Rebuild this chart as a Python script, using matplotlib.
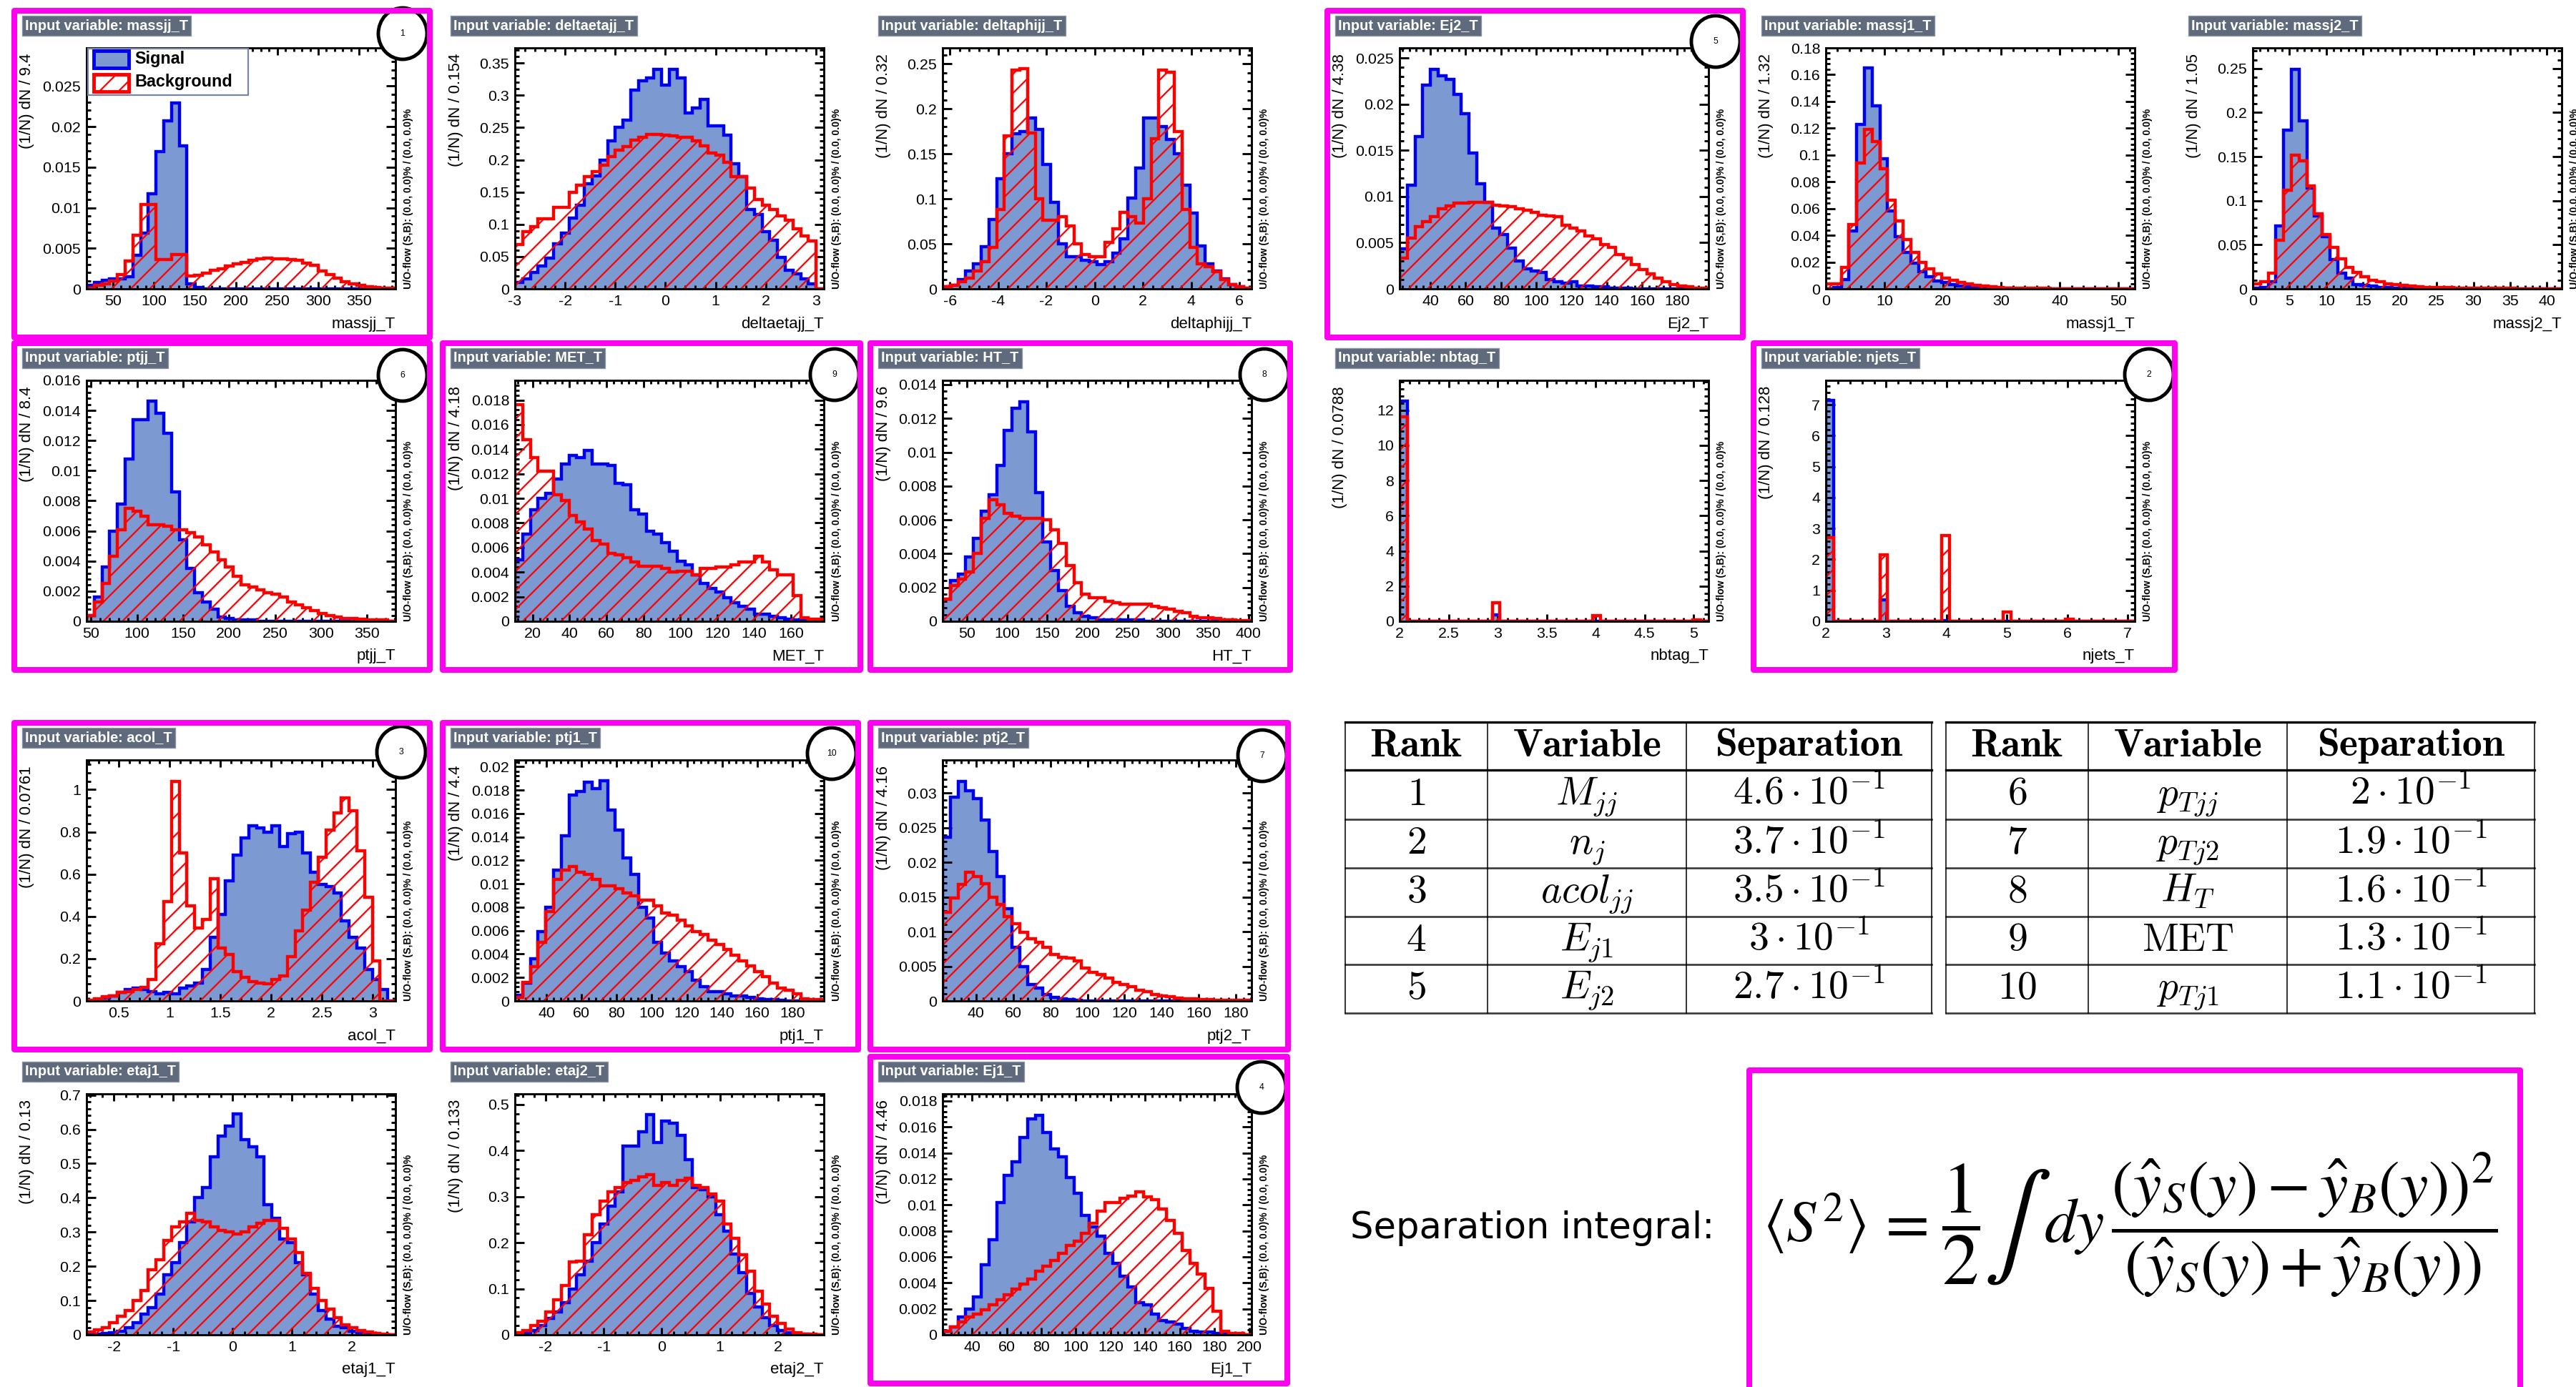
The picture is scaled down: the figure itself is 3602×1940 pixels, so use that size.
import numpy as np
import matplotlib
matplotlib.use("Agg")
import matplotlib.pyplot as plt
from matplotlib.patches import Rectangle, Ellipse
from matplotlib.lines import Line2D
from matplotlib.ticker import MultipleLocator, FormatStrFormatter

plt.rcParams['font.family'] = ['Liberation Sans', 'DejaVu Sans']
plt.rcParams['hatch.linewidth'] = 1.0
plt.rcParams['hatch.color'] = 'red'

# ---------------------------------------------------------------- data
MASSJJ_SIG = [0.0004, 0.0008, 0.0011, 0.0012, 0.0012, 0.0015, 0.0041, 0.0069, 0.0117, 0.0169,
              0.0207, 0.0229, 0.0176, 0.0006, 0.0002, 0, 0, 0, 0, 0,
              0, 0, 0, 0, 0, 0, 0, 0, 0, 0, 0, 0, 0, 0, 0, 0, 0, 0, 0, 0]
MASSJJ_BKG = [0.0001, 0.0004, 0.0006, 0.0010, 0.0018, 0.0034, 0.0066, 0.0104, 0.0104, 0.0036,
              0.0036, 0.0042, 0.0042, 0.0016, 0.0017, 0.0019, 0.0023, 0.0025, 0.0028, 0.0031,
              0.0033, 0.0035, 0.0037, 0.0038, 0.0037, 0.0037, 0.0036, 0.0035, 0.0032, 0.0029,
              0.0022, 0.0018, 0.0013, 0.0009, 0.0006, 0.0004, 0.0003, 0.0002, 0.0001, 0.0001]

DETAJJ_SIG = [0.010, 0.015, 0.025, 0.035, 0.048, 0.070, 0.086, 0.110, 0.130, 0.163,
              0.175, 0.200, 0.230, 0.250, 0.262, 0.308, 0.323, 0.327, 0.340, 0.316,
              0.340, 0.327, 0.273, 0.281, 0.294, 0.253, 0.253, 0.238, 0.194, 0.174,
              0.123, 0.115, 0.089, 0.075, 0.049, 0.029, 0.023, 0.016, 0.008, 0.0]
DETAJJ_BKG = [0.069, 0.089, 0.097, 0.109, 0.109, 0.126, 0.126, 0.150, 0.161, 0.174,
              0.182, 0.192, 0.205, 0.215, 0.221, 0.231, 0.235, 0.240, 0.239, 0.238,
              0.237, 0.235, 0.235, 0.229, 0.222, 0.211, 0.207, 0.196, 0.174, 0.174,
              0.156, 0.139, 0.130, 0.123, 0.113, 0.106, 0.093, 0.082, 0.074, 0.0]

DPHIJJ_SIG = [0.002, 0.004, 0.010, 0.020, 0.028, 0.047, 0.077, 0.122, 0.150, 0.172,
              0.175, 0.190, 0.177, 0.138, 0.096, 0.050, 0.036, 0.036, 0.032, 0.030,
              0.027, 0.030, 0.040, 0.056, 0.101, 0.134, 0.190, 0.190, 0.180, 0.166,
              0.150, 0.115, 0.084, 0.048, 0.028, 0.020, 0.011, 0.005, 0.002, 0.0]
DPHIJJ_BKG = [0.002, 0.004, 0.008, 0.012, 0.020, 0.030, 0.046, 0.088, 0.170, 0.243,
              0.245, 0.173, 0.100, 0.076, 0.076, 0.080, 0.070, 0.050, 0.038, 0.036,
              0.036, 0.052, 0.067, 0.085, 0.080, 0.073, 0.100, 0.167, 0.243, 0.241,
              0.175, 0.088, 0.046, 0.028, 0.025, 0.019, 0.010, 0.005, 0.002, 0.001]

EJ2_SIG = [0.0043, 0.0112, 0.0165, 0.0221, 0.0238, 0.0231, 0.0227, 0.0211, 0.0190, 0.0147,
           0.0114, 0.0094, 0.0066, 0.0059, 0.0044, 0.0030, 0.0022, 0.0019, 0.0018, 0.0010,
           0.0008, 0.0006, 0.0008, 0.0003, 0.0003, 0.0002, 0.0002, 0.0001, 0.0001, 0.0001,
           0, 0, 0, 0, 0, 0, 0, 0, 0, 0]
EJ2_BKG = [0.0033, 0.0055, 0.0067, 0.0073, 0.0078, 0.0087, 0.0090, 0.0093, 0.0093, 0.0094,
           0.0094, 0.0094, 0.0091, 0.0090, 0.0089, 0.0087, 0.0085, 0.0083, 0.0080, 0.0079,
           0.0078, 0.0069, 0.0066, 0.0063, 0.0057, 0.0054, 0.0048, 0.0045, 0.0037, 0.0033,
           0.0026, 0.0021, 0.0016, 0.0012, 0.0008, 0.0005, 0.0003, 0.0002, 0.0001, 0.0001]

MASSJ1_SIG = [0.0, 0.001, 0.007, 0.043, 0.123, 0.165, 0.137, 0.097, 0.058, 0.039,
              0.027, 0.019, 0.013, 0.009, 0.006, 0.005, 0.003, 0.002, 0.0015, 0.001,
              0.0008, 0.0005, 0.0004, 0.0003, 0.0002, 0.0002, 0.0001, 0.0001, 0.0001, 0,
              0, 0, 0, 0, 0, 0, 0, 0, 0, 0]
MASSJ1_BKG = [0.004, 0.004, 0.016, 0.048, 0.094, 0.119, 0.110, 0.090, 0.066, 0.051,
              0.037, 0.027, 0.020, 0.015, 0.011, 0.008, 0.0065, 0.005, 0.0035, 0.0025,
              0.002, 0.0015, 0.001, 0.0008, 0.0006, 0.0005, 0.0004, 0.0003, 0.0003, 0.0002,
              0.0002, 0.0002, 0.0001, 0.0001, 0.0001, 0.0001, 0.0001, 0.0001, 0.0001, 0.0001]

MASSJ2_SIG = [0.001, 0.002, 0.008, 0.071, 0.180, 0.249, 0.191, 0.114, 0.083, 0.059,
              0.033, 0.018, 0.012, 0.005, 0.004, 0.003, 0.002, 0.0015, 0.001, 0.001,
              0.0005, 0.0005, 0.0003, 0.0003, 0.0002, 0.0002, 0.0001, 0.0001, 0, 0,
              0, 0, 0, 0, 0, 0, 0, 0, 0, 0]
MASSJ2_BKG = [0.006, 0.008, 0.0175, 0.055, 0.112, 0.152, 0.145, 0.117, 0.085, 0.062,
              0.047, 0.034, 0.024, 0.019, 0.014, 0.010, 0.008, 0.006, 0.005, 0.004,
              0.003, 0.0025, 0.002, 0.0018, 0.0015, 0.0013, 0.0011, 0.001, 0.0009, 0.0008,
              0.0007, 0.0006, 0.0005, 0.0005, 0.0004, 0.0004, 0.0003, 0.0003, 0.0003, 0.0002]

PTJJ_SIG = [0.0004, 0.0016, 0.0036, 0.0060, 0.0078, 0.0108, 0.0134, 0.0134, 0.0146, 0.0138,
            0.0125, 0.0086, 0.0054, 0.0035, 0.0019, 0.0013, 0.0008, 0.0003, 0.0002, 0.0001,
            0.0001, 0.0001, 0, 0, 0, 0, 0, 0, 0, 0, 0, 0, 0, 0, 0, 0, 0, 0, 0, 0]
PTJJ_BKG = [0.0004, 0.0013, 0.0025, 0.0043, 0.0061, 0.0075, 0.0073, 0.0070, 0.0064, 0.0064,
            0.0063, 0.0061, 0.0061, 0.0059, 0.0056, 0.0051, 0.0046, 0.0041, 0.0036, 0.0030,
            0.0024, 0.0023, 0.0021, 0.0019, 0.0018, 0.0016, 0.0013, 0.0011, 0.0009, 0.0007,
            0.0005, 0.0004, 0.0003, 0.0002, 0.0002, 0.00015, 0.0001, 0.0001, 0.0001, 0.0]

MET_SIG = [0.0050, 0.0071, 0.0091, 0.0100, 0.0104, 0.0116, 0.0128, 0.0135, 0.0133, 0.0139,
           0.0128, 0.0128, 0.0127, 0.0112, 0.0111, 0.0091, 0.0087, 0.0073, 0.0071, 0.0064,
           0.0057, 0.0049, 0.0046, 0.0038, 0.0031, 0.0027, 0.0024, 0.0019, 0.0015, 0.0012,
           0.0010, 0.0006, 0.0006, 0.0004, 0.0003, 0.0002, 0.0001, 0.0001, 0.00005, 0.00005]
MET_BKG = [0.0176, 0.0148, 0.0133, 0.0122, 0.0122, 0.0103, 0.0098, 0.0086, 0.0081, 0.0075,
           0.0066, 0.0063, 0.0055, 0.0054, 0.0052, 0.0048, 0.0045, 0.0045, 0.0045, 0.0043,
           0.0040, 0.0041, 0.0041, 0.0038, 0.0043, 0.0043, 0.0044, 0.0044, 0.0046, 0.0048,
           0.0048, 0.0053, 0.0048, 0.0042, 0.0038, 0.0038, 0.0021, 0.0003, 0.0002, 0.0002]

HT_SIG = [0.0013, 0.0024, 0.0028, 0.0038, 0.0049, 0.0065, 0.0075, 0.0092, 0.0113, 0.0126,
          0.0130, 0.0112, 0.0076, 0.0047, 0.0030, 0.0018, 0.0009, 0.0005, 0.0003, 0.0002,
          0.0001, 0.0001, 0.0001, 0.0001, 0.0001, 0.0001, 0, 0, 0, 0,
          0, 0, 0, 0, 0, 0, 0, 0, 0, 0]
HT_BKG = [0.0013, 0.0021, 0.0025, 0.0029, 0.0040, 0.0061, 0.0072, 0.0069, 0.0064, 0.0062,
          0.0061, 0.0061, 0.0061, 0.0060, 0.0054, 0.0046, 0.0033, 0.0023, 0.0016, 0.0014,
          0.0014, 0.0012, 0.0011, 0.0010, 0.0010, 0.0010, 0.0010, 0.0009, 0.0008, 0.0007,
          0.0006, 0.0005, 0.0003, 0.0002, 0.0002, 0.00015, 0.0001, 0.0001, 0.00005, 0.00005]

NBTAG_SIG = [12.5, 0, 0, 0, 0, 0, 0, 0, 0, 0, 0, 0, 0.35, 0, 0, 0, 0, 0, 0, 0,
             0, 0, 0, 0, 0, 0.02, 0, 0, 0, 0, 0, 0, 0, 0, 0, 0, 0, 0, 0, 0]
NBTAG_BKG = [11.6, 0, 0, 0, 0, 0, 0, 0, 0, 0, 0, 0, 1.05, 0, 0, 0, 0, 0, 0, 0,
             0, 0, 0, 0, 0, 0.31, 0, 0, 0, 0, 0, 0, 0, 0, 0, 0, 0, 0, 0.10, 0]

NJETS_SIG = [7.15, 0, 0, 0, 0, 0, 0, 0.70, 0, 0, 0, 0, 0, 0, 0, 0.02, 0, 0, 0, 0,
             0, 0, 0, 0, 0, 0, 0, 0, 0, 0, 0, 0, 0, 0, 0, 0, 0, 0, 0, 0]
NJETS_BKG = [2.71, 0, 0, 0, 0, 0, 0, 2.15, 0, 0, 0, 0, 0, 0, 0, 2.78, 0, 0, 0, 0,
             0, 0, 0, 0.29, 0, 0, 0, 0, 0, 0, 0, 0.06, 0, 0, 0, 0, 0, 0, 0, 0]

ACOL_SIG = [0.0, 0.005, 0.015, 0.025, 0.040, 0.055, 0.060, 0.055, 0.045, 0.035,
            0.040, 0.035, 0.060, 0.070, 0.085, 0.150, 0.300, 0.410, 0.570, 0.690,
            0.770, 0.830, 0.820, 0.800, 0.830, 0.730, 0.790, 0.800, 0.700, 0.610,
            0.550, 0.540, 0.510, 0.380, 0.300, 0.250, 0.150, 0.100, 0.055, 0.0]
ACOL_BKG = [0.005, 0.010, 0.020, 0.025, 0.040, 0.045, 0.055, 0.065, 0.100, 0.270,
            0.470, 1.040, 0.700, 0.450, 0.345, 0.385, 0.580, 0.250, 0.220, 0.140,
            0.110, 0.090, 0.085, 0.080, 0.100, 0.120, 0.210, 0.330, 0.430, 0.560,
            0.680, 0.810, 0.890, 0.960, 0.900, 0.710, 0.490, 0.190, 0.0, 0.0]

PTJ1_SIG = [0.0005, 0.0015, 0.0036, 0.0059, 0.0080, 0.0112, 0.0141, 0.0176, 0.0179, 0.0187,
            0.0181, 0.0188, 0.0163, 0.0146, 0.0122, 0.0108, 0.0080, 0.0071, 0.0050, 0.0041,
            0.0034, 0.0029, 0.0025, 0.0018, 0.0012, 0.0008, 0.0008, 0.0006, 0.0004, 0.0004,
            0.0003, 0.0002, 0.0001, 0.0001, 0.00005, 0, 0, 0, 0, 0]
PTJ1_BKG = [0.0003, 0.0016, 0.0029, 0.0050, 0.0076, 0.0104, 0.0112, 0.0115, 0.0110, 0.0108,
            0.0104, 0.0098, 0.0098, 0.0096, 0.0092, 0.0090, 0.0086, 0.0086, 0.0081, 0.0075,
            0.0073, 0.0069, 0.0064, 0.0059, 0.0057, 0.0052, 0.0048, 0.0044, 0.0039, 0.0034,
            0.0030, 0.0025, 0.0021, 0.0015, 0.0011, 0.0009, 0.0006, 0.0002, 0.0001, 0.0001]

PTJ2_SIG = [0.0236, 0.0294, 0.0317, 0.0304, 0.0292, 0.0261, 0.0216, 0.0180, 0.0133, 0.0077,
            0.0050, 0.0024, 0.0019, 0.0009, 0.0005, 0.0003, 0.0002, 0.0001, 0.00005, 0.00005,
            0, 0, 0, 0, 0, 0, 0, 0, 0, 0, 0, 0, 0, 0, 0, 0, 0, 0, 0, 0]
PTJ2_BKG = [0.0128, 0.0149, 0.0168, 0.0186, 0.0180, 0.0169, 0.0150, 0.0139, 0.0122, 0.0112,
            0.0099, 0.0090, 0.0085, 0.0077, 0.0067, 0.0063, 0.0062, 0.0058, 0.0048, 0.0041,
            0.0038, 0.0033, 0.0027, 0.0024, 0.0021, 0.0016, 0.0013, 0.0009, 0.0007, 0.0006,
            0.0004, 0.0003, 0.0003, 0.0002, 0.0002, 0.0001, 0.0001, 0.0001, 0.0001, 0.0001]

ETAJ1_SIG = [0.001, 0.002, 0.004, 0.006, 0.010, 0.020, 0.035, 0.060, 0.080, 0.120,
             0.175, 0.210, 0.270, 0.330, 0.400, 0.430, 0.520, 0.580, 0.610, 0.645,
             0.570, 0.550, 0.520, 0.380, 0.340, 0.280, 0.270, 0.210, 0.175, 0.120,
             0.070, 0.045, 0.025, 0.020, 0.010, 0.006, 0.003, 0.002, 0.001, 0.0]
ETAJ1_BKG = [0.008, 0.015, 0.020, 0.035, 0.055, 0.070, 0.100, 0.130, 0.190, 0.220,
             0.275, 0.315, 0.330, 0.355, 0.335, 0.330, 0.315, 0.305, 0.300, 0.295,
             0.300, 0.315, 0.325, 0.335, 0.335, 0.310, 0.280, 0.240, 0.180, 0.135,
             0.100, 0.075, 0.050, 0.030, 0.020, 0.012, 0.008, 0.005, 0.002, 0.001]

ETAJ2_SIG = [0.002, 0.005, 0.010, 0.020, 0.035, 0.050, 0.070, 0.100, 0.130, 0.160,
             0.200, 0.240, 0.280, 0.310, 0.410, 0.410, 0.440, 0.478, 0.418, 0.464,
             0.460, 0.433, 0.380, 0.320, 0.315, 0.300, 0.260, 0.225, 0.175, 0.135,
             0.090, 0.060, 0.037, 0.020, 0.009, 0.004, 0.002, 0.001, 0.0, 0.0]
ETAJ2_BKG = [0.004, 0.009, 0.020, 0.030, 0.050, 0.076, 0.107, 0.158, 0.160, 0.217,
             0.260, 0.290, 0.310, 0.320, 0.330, 0.335, 0.343, 0.348, 0.325, 0.330,
             0.325, 0.335, 0.340, 0.325, 0.320, 0.305, 0.290, 0.240, 0.210, 0.174,
             0.138, 0.094, 0.066, 0.040, 0.025, 0.012, 0.005, 0.002, 0.001, 0.0]

EJ1_SIG = [0.0003, 0.0006, 0.0014, 0.0020, 0.0029, 0.0054, 0.0073, 0.0102, 0.0123, 0.0133,
           0.0152, 0.0166, 0.0169, 0.0156, 0.0143, 0.0137, 0.0121, 0.0109, 0.0092, 0.0083,
           0.0076, 0.0063, 0.0055, 0.0045, 0.0037, 0.0025, 0.0023, 0.0016, 0.0011, 0.0010,
           0.0008, 0.0005, 0.0003, 0.0002, 0.0002, 0.0001, 0.0001, 0, 0, 0]
EJ1_BKG = [0.0003, 0.0006, 0.0010, 0.0014, 0.0016, 0.0019, 0.0023, 0.0027, 0.0031, 0.0035,
           0.0039, 0.0043, 0.0049, 0.0053, 0.0057, 0.0063, 0.0069, 0.0072, 0.0078, 0.0086,
           0.0095, 0.0102, 0.0102, 0.0105, 0.0107, 0.0110, 0.0106, 0.0104, 0.0097, 0.0088,
           0.0078, 0.0065, 0.0055, 0.0047, 0.0036, 0.0018, 0.0003, 0.0001, 0.0001, 0.0]

# variable name, signal, background, first bin edge, bin width
HISTS = [
    ("massjj_T", MASSJJ_SIG, MASSJJ_BKG, 18.0, 9.4),
    ("deltaetajj_T", DETAJJ_SIG, DETAJJ_BKG, -3.0, 0.154),
    ("deltaphijj_T", DPHIJJ_SIG, DPHIJJ_BKG, -6.3, 0.32),
    ("Ej2_T", EJ2_SIG, EJ2_BKG, 22.5, 4.38),
    ("massj1_T", MASSJ1_SIG, MASSJ1_BKG, 0.0, 1.32),
    ("massj2_T", MASSJ2_SIG, MASSJ2_BKG, 0.0, 1.05),
    ("ptjj_T", PTJJ_SIG, PTJJ_BKG, 45.0, 8.4),
    ("MET_T", MET_SIG, MET_BKG, 10.5, 4.18),
    ("HT_T", HT_SIG, HT_BKG, 20.0, 9.6),
    ("nbtag_T", NBTAG_SIG, NBTAG_BKG, 2.0, 0.0788),
    ("njets_T", NJETS_SIG, NJETS_BKG, 2.0, 0.128),
    ("acol_T", ACOL_SIG, ACOL_BKG, 0.18, 0.0761),
    ("ptj1_T", PTJ1_SIG, PTJ1_BKG, 22.0, 4.4),
    ("ptj2_T", PTJ2_SIG, PTJ2_BKG, 22.0, 4.16),
    ("etaj1_T", ETAJ1_SIG, ETAJ1_BKG, -2.46, 0.13),
    ("etaj2_T", ETAJ2_SIG, ETAJ2_BKG, -2.53, 0.133),
    ("Ej1_T", EJ1_SIG, EJ1_BKG, 23.0, 4.46),
]
BIN_LABELS = {"massjj_T": "9.4", "deltaetajj_T": "0.154", "deltaphijj_T": "0.32",
              "Ej2_T": "4.38", "massj1_T": "1.32", "massj2_T": "1.05", "ptjj_T": "8.4",
              "MET_T": "4.18", "HT_T": "9.6", "nbtag_T": "0.0788", "njets_T": "0.128",
              "acol_T": "0.0761", "ptj1_T": "4.4", "ptj2_T": "4.16", "etaj1_T": "0.13",
              "etaj2_T": "0.133", "Ej1_T": "4.46"}

# separation ranking
RANK_VARS = ["massjj_T", "njets_T", "acol_T", "Ej1_T", "Ej2_T",
             "ptjj_T", "ptj2_T", "HT_T", "MET_T", "ptj1_T"]
TABLE_RANK = [1, 2, 3, 4, 5, 6, 7, 8, 9, 10]
TABLE_VAR = [r"M_{jj}", r"n_j", r"acol_{jj}", r"E_{j1}", r"E_{j2}",
             r"p_{Tjj}", r"p_{Tj2}", r"H_T", r"\mathrm{MET}", r"p_{Tj1}"]
TABLE_SEP = [0.46, 0.37, 0.35, 0.30, 0.27, 0.20, 0.19, 0.16, 0.13, 0.11]

# ---------------------------------------------------------------- layout / style
W, H, DPI = 3602, 1940, 160
SIG_FILL = "#7d99d1"
SIG_LINE = "#0000f0"
BKG_LINE = "#ff0000"
TITLE_BG = "#5f6a7d"
MAGENTA = "#ff00f0"

AXW, AXH = 432, 337
COL_X = [121, 720, 1318, 1957, 2553, 3150]
ROW_Y = [67, 532, 1063, 1530]
GRID = {"massjj_T": (0, 0), "deltaetajj_T": (1, 0), "deltaphijj_T": (2, 0), "Ej2_T": (3, 0),
        "massj1_T": (4, 0), "massj2_T": (5, 0),
        "ptjj_T": (0, 1), "MET_T": (1, 1), "HT_T": (2, 1), "nbtag_T": (3, 1), "njets_T": (4, 1),
        "acol_T": (0, 2), "ptj1_T": (1, 2), "ptj2_T": (2, 2),
        "etaj1_T": (0, 3), "etaj2_T": (1, 3), "Ej1_T": (2, 3)}
# y max, x major step, y major step
AXIS = {"massjj_T": (0.0297, 50, 0.005), "deltaetajj_T": (0.3736, 1, 0.05),
        "deltaphijj_T": (0.2677, 2, 0.05), "Ej2_T": (0.0261, 20, 0.005),
        "massj1_T": (0.180, 10, 0.02), "massj2_T": (0.2734, 5, 0.05),
        "ptjj_T": (0.0160, 50, 0.002), "MET_T": (0.0196, 20, 0.002),
        "HT_T": (0.01425, 50, 0.002), "nbtag_T": (13.69, 0.5, 2),
        "njets_T": (7.79, 1, 1), "acol_T": (1.14, 0.5, 0.2),
        "ptj1_T": (0.02057, 20, 0.002), "ptj2_T": (0.0348, 20, 0.005),
        "etaj1_T": (0.7035, 1, 0.1), "etaj2_T": (0.523, 1, 0.1), "Ej1_T": (0.01855, 20, 0.002)}
CIRCLE_OFF = {"massjj_T": (10, -20), "Ej2_T": (10, -9), "ptjj_T": (10, -7), "MET_T": (15, -8),
              "HT_T": (18, -8), "njets_T": (20, -8), "acol_T": (8, -11), "ptj1_T": (11, -9),
              "ptj2_T": (15, -6), "Ej1_T": (14, -9)}

fig = plt.figure(figsize=(W / DPI, H / DPI), dpi=DPI)
fig.patch.set_facecolor("white")


def fx(px):
    return px / W


def fy(py):
    return 1.0 - py / H


def frame(x0, y0, x1, y1, lw=3.6, color=MAGENTA, z=20):
    r = Rectangle((fx(x0), fy(y1)), fx(x1) - fx(x0), fy(y0) - fy(y1),
                  transform=fig.transFigure, fill=False, edgecolor=color,
                  linewidth=lw, joinstyle="round", zorder=z)
    fig.add_artist(r)


rank_of = {v: i + 1 for i, v in enumerate(RANK_VARS)}

for name, sig, bkg, x0, bw in HISTS:
    col, row = GRID[name]
    L, T = COL_X[col], ROW_Y[row]
    R, B = L + AXW, T + AXH
    ymax, xmaj, ymaj = AXIS[name]
    ax = fig.add_axes([fx(L), fy(B), AXW / W, AXH / H])
    sig = np.asarray(sig, float)
    bkg = np.asarray(bkg, float)
    edges = x0 + bw * np.arange(len(sig) + 1)
    ax.stairs(sig, edges, fill=True, facecolor=SIG_FILL, edgecolor="none", linewidth=0, zorder=1)
    ax.stairs(sig, edges, fill=False, color=SIG_LINE, linewidth=2.0, zorder=2)
    ax.stairs(bkg, edges, fill=True, facecolor="none", edgecolor=BKG_LINE, hatch="//",
              linewidth=0, zorder=3)
    ax.stairs(bkg, edges, fill=False, color=BKG_LINE, linewidth=2.0, zorder=4)
    ax.set_xlim(edges[0], edges[-1])
    ax.set_ylim(0, ymax)
    ax.xaxis.set_major_locator(MultipleLocator(xmaj))
    ax.xaxis.set_minor_locator(MultipleLocator(xmaj / 5))
    ax.yaxis.set_major_locator(MultipleLocator(ymaj))
    ax.yaxis.set_minor_locator(MultipleLocator(ymaj / 5))
    ax.xaxis.set_major_formatter(FormatStrFormatter("%g"))
    ax.yaxis.set_major_formatter(FormatStrFormatter("%g"))
    ax.tick_params(which="both", direction="in", top=True, right=True, width=1.3,
                   labelsize=9.6, colors="black")
    ax.tick_params(axis="x", which="major", length=4.5, pad=3.5)
    ax.tick_params(axis="x", which="minor", length=2.3)
    ax.tick_params(axis="y", which="major", length=5.8, pad=3.5)
    ax.tick_params(axis="y", which="minor", length=2.9)
    for sp in ax.spines.values():
        sp.set_linewidth(1.3)
        sp.set_zorder(6)

    # texts around the axes
    fig.text(fx(L - 83), fy(T + 8), "(1/N) dN / " + BIN_LABELS[name], rotation=90,
             ha="center", va="top", fontsize=10)
    fig.text(fx(R), fy(B + 49), name, ha="right", va="center", fontsize=10)
    fig.text(fx(R + 18), fy(B), "U/O-flow (S,B): (0.0, 0.0)% / (0.0, 0.0)%", rotation=90,
             ha="center", va="bottom", fontsize=6.3, fontweight="bold")
    fig.text(fx(L - 86), fy(T - 31), "Input variable: " + name, ha="left", va="center",
             fontsize=9, fontweight="bold", color="white",
             bbox=dict(boxstyle="square,pad=0.22", facecolor=TITLE_BG, edgecolor="#8a93a3",
                       linewidth=0.6))

    if name in rank_of:
        dx, dy = CIRCLE_OFF[name]
        cx, cy = R + dx, T + dy
        e = Ellipse((fx(cx), fy(cy)), 68 / W, 72 / H, transform=fig.transFigure,
                    facecolor="white", edgecolor="black", linewidth=2.2, zorder=15)
        fig.add_artist(e)
        fig.text(fx(cx), fy(cy), str(rank_of[name]), ha="center", va="center",
                 fontsize=5.5, zorder=16)
        frame(L - 101, T - 52, R + max(48, dx + 36), B + 68)

    if name == "massjj_T":
        lg = Rectangle((fx(L + 2), fy(T + 66)), 224 / W, 65 / H, transform=fig.transFigure,
                       facecolor="white", edgecolor="#7886a3", linewidth=1.0, zorder=12)
        fig.add_artist(lg)
        h1 = Rectangle((fx(L + 10), fy(T + 28)), 49 / W, 24 / H, transform=fig.transFigure,
                       facecolor=SIG_FILL, edgecolor=SIG_LINE, linewidth=2.2, zorder=13)
        fig.add_artist(h1)
        h2 = Rectangle((fx(L + 10), fy(T + 61)), 49 / W, 24 / H, transform=fig.transFigure,
                       facecolor="white", edgecolor=BKG_LINE, hatch="//", linewidth=2.2, zorder=13)
        fig.add_artist(h2)
        fig.text(fx(L + 67), fy(T + 15), "Signal", ha="left", va="center", fontsize=10.5,
                 fontweight="bold", zorder=14)
        fig.text(fx(L + 67), fy(T + 48), "Background", ha="left", va="center", fontsize=10.5,
                 fontweight="bold", zorder=14)

# ---------------------------------------------------------------- ranking table
ROWS_Y = [1010, 1077, 1146, 1214, 1282, 1349, 1417]
TABLES_X = [[1881, 2080, 2358, 2701], [2721, 2920, 3198, 3544]]
for t, xs in enumerate(TABLES_X):
    for i, yy in enumerate(ROWS_Y):
        lw = 1.5 if i in (0, 1) else 1.2
        c = "black" if i in (0, 1) else "#3a3a3a"
        fig.add_artist(Line2D([fx(xs[0]), fx(xs[-1])], [fy(yy), fy(yy)],
                              transform=fig.transFigure, color=c, linewidth=lw))
    for xx in xs:
        fig.add_artist(Line2D([fx(xx), fx(xx)], [fy(ROWS_Y[0]), fy(ROWS_Y[-1])],
                              transform=fig.transFigure, color="black", linewidth=0.7))
    centers = [(xs[j] + xs[j + 1]) / 2 for j in range(3)]
    ycen0 = (ROWS_Y[0] + ROWS_Y[1]) / 2
    for j, head in enumerate(["Rank", "Variable", "Separation"]):
        fig.text(fx(centers[j]), fy(ycen0 + 14), r"$\mathbf{%s}$" % head, ha="center",
                 va="baseline", fontsize=25, math_fontfamily="cm")
    for r in range(5):
        k = t * 5 + r
        yc = (ROWS_Y[r + 1] + ROWS_Y[r + 2]) / 2
        mant = "%g" % round(TABLE_SEP[k] * 10, 3)
        fig.text(fx(centers[0]), fy(yc + 14), r"$%d$" % TABLE_RANK[k], ha="center",
                 va="baseline", fontsize=25, math_fontfamily="cm")
        fig.text(fx(centers[1]), fy(yc + 14), r"$%s$" % TABLE_VAR[k], ha="center",
                 va="baseline", fontsize=25, math_fontfamily="cm")
        fig.text(fx(centers[2]), fy(yc + 14), r"$%s\cdot10^{-1}$" % mant, ha="center",
                 va="baseline", fontsize=25, math_fontfamily="cm")

# ---------------------------------------------------------------- separation integral
frame(2446, 1497, 3524, 1960)
fig.text(fx(1888), fy(1718), "Separation integral:", ha="left", va="center",
         fontsize=23, family=["DejaVu Sans"])
fig.text(fx(2465), fy(1712), r"$\langle S^2\rangle$", ha="left", va="center",
         fontsize=37, math_fontfamily="stix")
fig.text(fx(2660), fy(1714), r"$=$", ha="center", va="center",
         fontsize=40, math_fontfamily="stix")
fig.text(fx(2742), fy(1712), r"$\dfrac{1}{2}$", ha="center", va="center",
         fontsize=46, math_fontfamily="stix")
fig.text(fx(2774), fy(1716), r"$\int$", ha="left", va="center", fontsize=64,
         math_fontfamily="stix")
fig.text(fx(2858), fy(1714),
         r"$dy\,\dfrac{(\hat{y}_S(y) - \hat{y}_B(y))^2}{(\hat{y}_S(y) + \hat{y}_B(y))}$",
         ha="left", va="center", fontsize=40, math_fontfamily="stix")

fig.savefig("out.png", dpi=DPI, facecolor="white")
